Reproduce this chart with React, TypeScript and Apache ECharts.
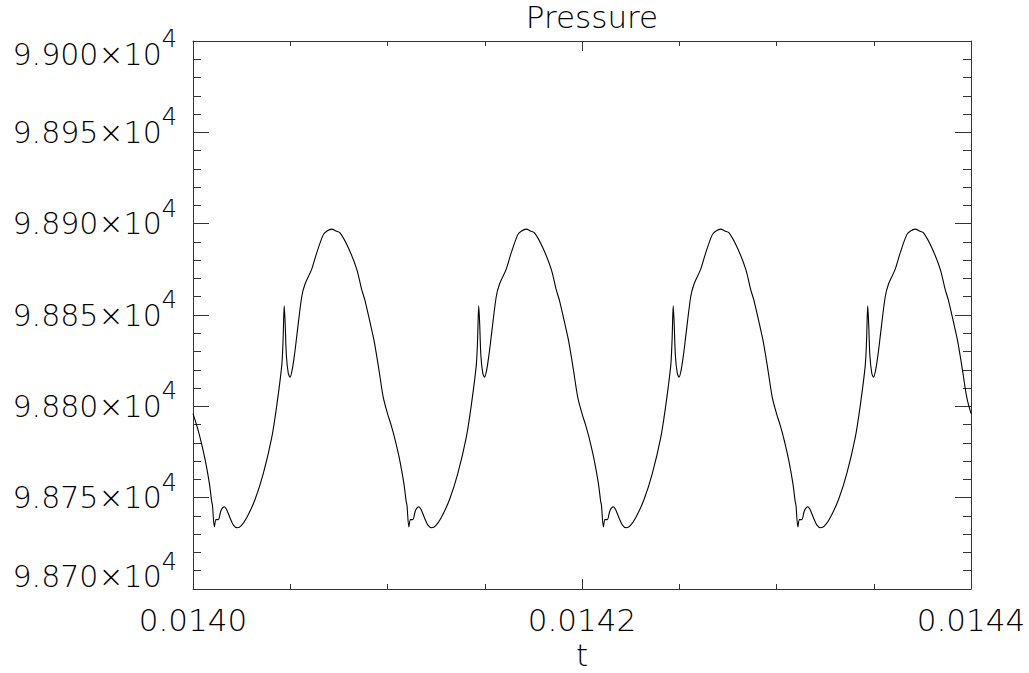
import React, { useEffect, useRef } from "react";
import * as echarts from "echarts";

// Time stamps (s) and pressure values
const times: number[] = [
  0.0140000, 0.0140018, 0.0140036, 0.0140062, 0.0140084, 0.0140096, 0.0140100, 0.0140110, 0.0140118, 0.0140130,
  0.0140144, 0.0140161, 0.0140175, 0.0140190, 0.0140208, 0.0140228, 0.0140247, 0.0140276, 0.0140319, 0.0140361,
  0.0140405, 0.0140430, 0.0140456, 0.0140463, 0.0140469, 0.0140474, 0.0140480, 0.0140490, 0.0140499, 0.0140510,
  0.0140524, 0.0140533, 0.0140559, 0.0140576, 0.0140610, 0.0140636, 0.0140670, 0.0140689, 0.0140713, 0.0140735,
  0.0140756, 0.0140798, 0.0140842, 0.0140867, 0.0140884, 0.0140927, 0.0140936, 0.0140956, 0.0140978,
  0.0141000, 0.0141018, 0.0141036, 0.0141062, 0.0141084, 0.0141096, 0.0141100, 0.0141110, 0.0141118, 0.0141130,
  0.0141144, 0.0141161, 0.0141175, 0.0141190, 0.0141208, 0.0141228, 0.0141247, 0.0141276, 0.0141319, 0.0141361,
  0.0141405, 0.0141430, 0.0141456, 0.0141463, 0.0141469, 0.0141474, 0.0141480, 0.0141490, 0.0141499, 0.0141510,
  0.0141524, 0.0141533, 0.0141559, 0.0141576, 0.0141610, 0.0141636, 0.0141670, 0.0141689, 0.0141713, 0.0141735,
  0.0141756, 0.0141798, 0.0141842, 0.0141867, 0.0141884, 0.0141927, 0.0141936, 0.0141956, 0.0141978,
  0.0142000, 0.0142018, 0.0142036, 0.0142062, 0.0142084, 0.0142096, 0.0142100, 0.0142110, 0.0142118, 0.0142130,
  0.0142144, 0.0142161, 0.0142175, 0.0142190, 0.0142208, 0.0142228, 0.0142247, 0.0142276, 0.0142319, 0.0142361,
  0.0142405, 0.0142430, 0.0142456, 0.0142463, 0.0142469, 0.0142474, 0.0142480, 0.0142490, 0.0142499, 0.0142510,
  0.0142524, 0.0142533, 0.0142559, 0.0142576, 0.0142610, 0.0142636, 0.0142670, 0.0142689, 0.0142713, 0.0142735,
  0.0142756, 0.0142798, 0.0142842, 0.0142867, 0.0142884, 0.0142927, 0.0142936, 0.0142956, 0.0142978,
  0.0143000, 0.0143018, 0.0143036, 0.0143062, 0.0143084, 0.0143096, 0.0143100, 0.0143110, 0.0143118, 0.0143130,
  0.0143144, 0.0143161, 0.0143175, 0.0143190, 0.0143208, 0.0143228, 0.0143247, 0.0143276, 0.0143319, 0.0143361,
  0.0143405, 0.0143430, 0.0143456, 0.0143463, 0.0143469, 0.0143474, 0.0143480, 0.0143490, 0.0143499, 0.0143510,
  0.0143524, 0.0143533, 0.0143559, 0.0143576, 0.0143610, 0.0143636, 0.0143670, 0.0143689, 0.0143713, 0.0143735,
  0.0143756, 0.0143798, 0.0143842, 0.0143867, 0.0143884, 0.0143927, 0.0143936, 0.0143956, 0.0143978,
  0.0144000,
];

const pressure: number[] = [
  98796, 98790, 98783, 98771, 98758, 98748, 98746, 98734, 98738, 98738,
  98743, 98745, 98743, 98739, 98735, 98733.5, 98734.5, 98739, 98749, 98763,
  98783, 98800, 98822, 98836, 98855, 98845, 98828, 98818, 98816, 98820,
  98830, 98838, 98860, 98867, 98875, 98884, 98894, 98896, 98897, 98896,
  98895, 98887, 98875, 98864, 98858, 98838, 98833, 98820, 98805,
  98796, 98790, 98783, 98771, 98758, 98748, 98746, 98734, 98738, 98738,
  98743, 98745, 98743, 98739, 98735, 98733.5, 98734.5, 98739, 98749, 98763,
  98783, 98800, 98822, 98836, 98855, 98845, 98828, 98818, 98816, 98820,
  98830, 98838, 98860, 98867, 98875, 98884, 98894, 98896, 98897, 98896,
  98895, 98887, 98875, 98864, 98858, 98838, 98833, 98820, 98805,
  98796, 98790, 98783, 98771, 98758, 98748, 98746, 98734, 98738, 98738,
  98743, 98745, 98743, 98739, 98735, 98733.5, 98734.5, 98739, 98749, 98763,
  98783, 98800, 98822, 98836, 98855, 98845, 98828, 98818, 98816, 98820,
  98830, 98838, 98860, 98867, 98875, 98884, 98894, 98896, 98897, 98896,
  98895, 98887, 98875, 98864, 98858, 98838, 98833, 98820, 98805,
  98796, 98790, 98783, 98771, 98758, 98748, 98746, 98734, 98738, 98738,
  98743, 98745, 98743, 98739, 98735, 98733.5, 98734.5, 98739, 98749, 98763,
  98783, 98800, 98822, 98836, 98855, 98845, 98828, 98818, 98816, 98820,
  98830, 98838, 98860, 98867, 98875, 98884, 98894, 98896, 98897, 98896,
  98895, 98887, 98875, 98864, 98858, 98838, 98833, 98820, 98805,
  98796,
];

const X_MIN = 0.014;
const X_MAX = 0.0144;
const X_STEP = 0.0002;
const Y_MIN = 98700;
const Y_MAX = 99000;
const Y_STEP = 50;

const TITLE = "Pressure";
const X_NAME = "t";

const FONT = "'DejaVu Sans', sans-serif";
const AXIS_COLOR = "#333";

export default function App() {
  const ref = useRef<HTMLDivElement>(null);

  useEffect(() => {
    if (!ref.current) return;
    const chart = echarts.init(ref.current, null, { renderer: "svg" });
    const data = times.map((t, i) => [t, pressure[i]]);

    const axisLineStyle = { lineStyle: { color: AXIS_COLOR, width: 1 } };
    const base = { fontFamily: FONT, fontWeight: 200, color: "#000", verticalAlign: "middle" };

    const yRich = {
      a: { ...base, fontSize: 30, lineHeight: 30 },
      s: { ...base, fontSize: 24, lineHeight: 24, padding: [0, 0, 30, 0] },
      at: { ...base, fontSize: 30, lineHeight: 30, padding: [26, 0, 0, 0] },
      st: { ...base, fontSize: 24, lineHeight: 24, padding: [26, 0, 30, 0] },
      ab: { ...base, fontSize: 30, lineHeight: 30, padding: [0, 0, 25, 0] },
      sb: { ...base, fontSize: 24, lineHeight: 24, padding: [0, 0, 55, 0] },
    };

    chart.setOption({
      animation: false,
      backgroundColor: "#fff",
      grid: { left: 193, top: 41, width: 778, height: 548, containLabel: false, outerBoundsMode: "none" },
      graphic: [
        {
          type: "text",
          x: 592,
          y: 17,
          style: {
            text: TITLE,
            fontSize: 31,
            fontFamily: FONT,
            fontWeight: 200,
            fill: "#000",
            textAlign: "center",
            textVerticalAlign: "middle",
          },
        },
      ],
      xAxis: [
        {
          type: "value",
          position: "bottom",
          min: X_MIN,
          max: X_MAX,
          interval: X_STEP,
          name: X_NAME,
          nameLocation: "middle",
          nameGap: 50,
          nameTextStyle: { fontSize: 31, lineHeight: 28, fontFamily: FONT, fontWeight: 200, color: "#000" },
          axisLine: { show: true, ...axisLineStyle },
          axisTick: { show: true, inside: true, length: 10, ...axisLineStyle },
          minorTick: { show: true, splitNumber: 4, length: 5, ...axisLineStyle },
          splitLine: { show: false },
          axisLabel: {
            show: true,
            margin: 15,
            fontSize: 31,
            fontFamily: FONT,
            fontWeight: 200,
            color: "#000",
            formatter: (v: number) => v.toFixed(4),
          },
        },
        {
          type: "value",
          position: "top",
          min: X_MIN,
          max: X_MAX,
          interval: X_STEP,
          axisLine: { show: true, ...axisLineStyle },
          axisTick: { show: true, inside: true, length: 10, ...axisLineStyle },
          minorTick: { show: true, splitNumber: 4, length: 5, ...axisLineStyle },
          splitLine: { show: false },
          axisLabel: { show: false },
        },
      ],
      yAxis: [
        {
          type: "value",
          position: "left",
          min: Y_MIN,
          max: Y_MAX,
          interval: Y_STEP,
          axisLine: { show: true, ...axisLineStyle },
          axisTick: { show: true, inside: true, length: 16, ...axisLineStyle },
          minorTick: { show: true, splitNumber: 5, length: 8, ...axisLineStyle },
          splitLine: { show: false },
          axisLabel: {
            show: true,
            margin: 16,
            formatter: (v: number) => {
              const m = (v / 1e4).toFixed(3) + "×10";
              if (v >= Y_MAX) return `{at|${m}}{st|4}`;
              if (v <= Y_MIN) return `{ab|${m}}{sb|4}`;
              return `{a|${m}}{s|4}`;
            },
            rich: yRich,
          },
        },
        {
          type: "value",
          position: "right",
          min: Y_MIN,
          max: Y_MAX,
          interval: Y_STEP,
          axisLine: { show: true, ...axisLineStyle },
          axisTick: { show: true, inside: true, length: 16, ...axisLineStyle },
          minorTick: { show: true, splitNumber: 5, length: 8, ...axisLineStyle },
          splitLine: { show: false },
          axisLabel: { show: false },
        },
      ],
      series: [
        {
          type: "line",
          xAxisIndex: 0,
          yAxisIndex: 0,
          data,
          showSymbol: false,
          smooth: 0.3,
          lineStyle: { color: "#000", width: 1.1 },
        },
      ],
    });

    return () => chart.dispose();
  }, []);

  return (
    <div
      ref={ref}
      style={{ position: "fixed", left: 0, top: 0, width: 1029, height: 673, background: "#fff" }}
    />
  );
}
